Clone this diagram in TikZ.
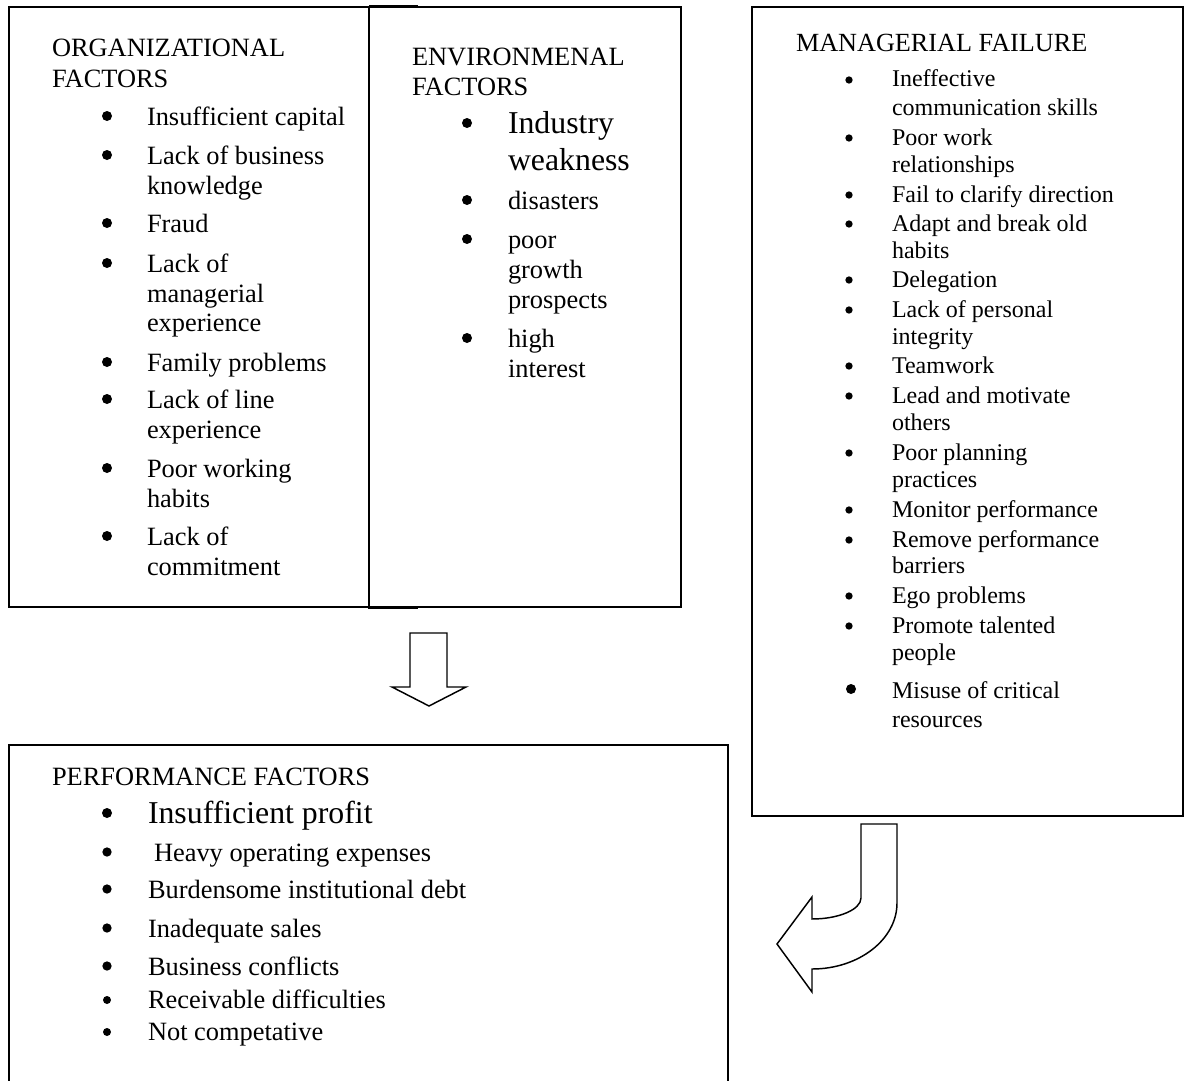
\documentclass[tikz,border=0pt]{standalone}
\usepackage{fontspec}
\setmainfont{Liberation Serif}
\begin{document}
\begin{tikzpicture}[x=0.75pt,y=-0.75pt,
  boxline/.style={draw=black, line width=1.1pt},
  arrowshape/.style={draw=black, line width=1.1pt, fill=white, line join=miter},
  lbl/.style={anchor=base west, inner sep=0pt, outer sep=0pt},
  dot/.style={circle, fill=black, draw=none, inner sep=0pt, minimum size=#1},
  fA/.style={font=\fontsize{19.8pt}{24pt}\selectfont},
  fB/.style={font=\fontsize{23.85pt}{28pt}\selectfont},
  fC/.style={font=\fontsize{18pt}{22pt}\selectfont},
  fH/.style={font=\fontsize{19.65pt}{24pt}\selectfont}]
\useasboundingbox (0,0) rectangle (1185,1081);

% boxes
\draw[boxline] (9,7) rectangle (369,607);
\draw[boxline] (369,7) rectangle (681,607);
\draw[boxline] (369,5.8) -- (418,5.8);
\draw[boxline] (368,608.2) -- (418,608.2);
\draw[boxline] (752,7) rectangle (1183,816);
\draw[boxline] (9,1081) -- (9,745) -- (728,745) -- (728,1081);

% organizational factors
\node[lbl,fA] (orgh1) at (52,57) {ORGANIZATIONAL};
\node[lbl,fA] (orgh2) at (52,88) {FACTORS};
\foreach \n/\y/\t in {1/125/Insufficient capital, 2/164/Lack of business, 3/194/knowledge,
  4/232/Fraud, 5/272/Lack of, 6/302/managerial, 7/331/experience, 8/371/Family problems,
  9/408/Lack of line, 10/438/experience, 11/477/Poor working, 12/507/habits,
  13/545/Lack of, 14/575/commitment}
  \node[lbl,fA] (org\n) at (147,\y) {\t};
\foreach \n/\y in {1/125, 2/164, 4/232, 5/272, 8/371, 9/408, 11/477, 13/545}
  \node[dot=7.5pt] (orgb\n) at (107,\y-9) {};

% environmental factors
\node[lbl,fA] (envh1) at (412,65) {ENVIRONMENAL};
\node[lbl,fA] (envh2) at (412,96) {FACTORS};
\node[lbl,fB] (env1) at (508,133) {Industry};
\node[lbl,fB] (env2) at (508,170) {weakness};
\foreach \n/\y/\t in {3/209/disasters, 4/248/poor, 5/278/growth, 6/308/prospects,
  7/347/high, 8/377/interest}
  \node[lbl,fA] (env\n) at (508,\y) {\t};
\node[dot=7.5pt] (envb1) at (467,123) {};
\foreach \n/\y in {3/209, 4/248, 7/347}
  \node[dot=7.5pt] (envb\n) at (467,\y-9) {};

% managerial failure
\node[lbl,fH] (manh) at (796,52) {MANAGERIAL FAILURE};
\foreach \n/\y/\t in {1/87/Ineffective, 2/115/communication skills, 3/145/Poor work,
  4/172/relationships, 5/202/Fail to clarify direction, 6/231/Adapt and break old,
  7/258/habits, 8/287/Delegation, 9/317/Lack of personal, 10/344/integrity,
  11/373/Teamwork, 12/403/Lead and motivate, 13/430/others, 14/460/Poor planning,
  15/487/practices, 16/517/Monitor performance, 17/547/Remove performance,
  18/573/barriers, 19/603/Ego problems, 20/633/Promote talented, 21/660/people,
  22/698/Misuse of critical, 23/727/resources}
  \node[lbl,fC] (man\n) at (892,\y) {\t};
\foreach \n/\y in {1/87, 3/145, 5/202, 6/231, 8/287, 9/317, 11/373, 12/403, 14/460,
  16/517, 17/547, 19/603, 20/633}
  \node[dot=5.5pt] (manb\n) at (849,\y-7) {};
\node[dot=7.5pt] (manb22) at (851,689) {};

% performance factors
\node[lbl,fA] (perfh) at (52,785) {PERFORMANCE FACTORS};
\node[lbl,fB] (perf1) at (148,823) {Insufficient profit};
\node[lbl,fA] (perf2) at (154,861) {Heavy operating expenses};
\foreach \n/\y/\t in {3/898/Burdensome institutional debt, 4/937/Inadequate sales,
  5/975/Business conflicts, 6/1008/Receivable difficulties, 7/1040/Not competative}
  \node[lbl,fA] (perf\n) at (148,\y) {\t};
\node[dot=7.5pt] (perfb1) at (107,813) {};
\foreach \n/\y in {2/861, 3/898, 4/937, 5/975}
  \node[dot=7pt] (perfb\n) at (107,\y-9) {};
\foreach \n/\y in {6/1008, 7/1040}
  \node[dot=6pt] (perfb\n) at (107,\y-8) {};

% block arrows
\draw[arrowshape] (410,633) -- (447,633) -- (447,687) -- (466,687) -- (429,706)
  -- (392,687) -- (410,687) -- cycle;
\draw[arrowshape] (861,824) -- (897,824) -- (897,903)
  .. controls (897,939.4) and (858.9,969) .. (812,969)
  -- (812,992) -- (777,944) -- (812,897) -- (812,919)
  .. controls (838.5,919) and (861,909.6) .. (861,898) -- cycle;
\end{tikzpicture}
\end{document}
